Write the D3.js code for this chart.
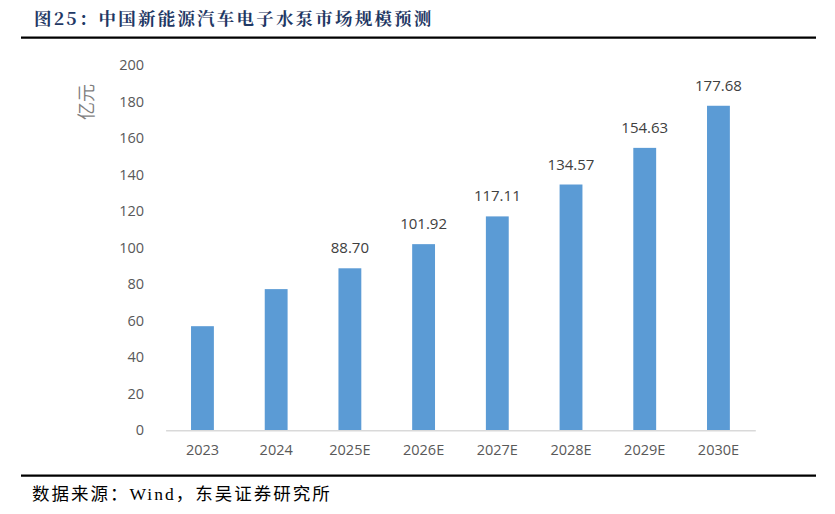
<!DOCTYPE html>
<html>
<head>
<meta charset="utf-8">
<script src="https://cdn.jsdelivr.net/npm/d3@7"></script>
<style>
  body { margin: 0; background: #fff; }
  svg text { font-family: "Open Sans", "Noto Sans", sans-serif; }
</style>
</head>
<body>
<svg id="chart" width="835" height="514"></svg>
<script>
// Chart data
const years    = ['2023', '2024', '2025E', '2026E', '2027E', '2028E', '2029E', '2030E'];
const values   = [57.0, 77.3, 88.70, 101.92, 117.11, 134.57, 154.63, 177.68];
const labelled = [false, false, true, true, true, true, true, true];
const yTicks   = [0, 20, 40, 60, 80, 100, 120, 140, 160, 180, 200];

const titleText  = '图25：中国新能源汽车电子水泵市场规模预测';
const sourceText = '数据来源：Wind，东吴证券研究所';
const unitText   = '亿元';

// Plot area
const plot = {left: 165.6, right: 755.3, top: 65, bottom: 430.3};

const svg = d3.select('#chart');

// Header and footer rules
svg.append('line').attr('x1', 21).attr('x2', 816).attr('y1', 37.7).attr('y2', 37.7)
   .attr('stroke', '#000').attr('stroke-width', 2.2);
svg.append('line').attr('x1', 21).attr('x2', 816).attr('y1', 475.7).attr('y2', 475.7)
   .attr('stroke', '#000').attr('stroke-width', 2.2);

svg.append('text').text(titleText)
   .attr('x', 34).attr('y', 25)
   .style('font-family', '"Noto Serif CJK SC", "Noto Sans CJK SC", serif')
   .style('font-weight', 'bold').style('font-size', '17.5px')
   .style('letter-spacing', '2.2px')
   .attr('fill', '#1f3864');

svg.append('text').text(sourceText)
   .attr('x', 32).attr('y', 500)
   .style('font-family', '"Liberation Serif", "Noto Sans CJK SC", serif')
   .style('font-size', '17.5px').style('letter-spacing', '2px')
   .attr('fill', '#000');

// Scales
const xScale = d3.scaleBand().domain(years)
                 .range([plot.left, plot.right])
                 .paddingInner(0.69).paddingOuter(0.345);
const yScale = d3.scaleLinear().domain([0, 200]).range([plot.bottom, plot.top]);

// Y axis (labels only)
const yAxis = d3.axisLeft(yScale).tickValues(yTicks).tickSize(0).tickPadding(0);
svg.append('g').attr('transform', `translate(144,0)`).call(yAxis)
   .call(g => g.select('.domain').remove())
   .selectAll('text')
   .style('font-size', '14.5px').attr('fill', '#595959')
   .style('font-family', '"Open Sans", "Noto Sans", sans-serif');

// Unit label
svg.append('text').text(unitText)
   .attr('transform', 'translate(93,102) rotate(-90)')
   .attr('text-anchor', 'middle')
   .style('font-family', '"Noto Sans CJK SC", sans-serif')
   .style('font-size', '18px').attr('fill', '#7f7f7f');

// Bars
svg.append('g').selectAll('rect')
   .data(values).enter()
   .append('rect')
   .attr('x', (d, i) => xScale(years[i]))
   .attr('width', xScale.bandwidth())
   .attr('y', d => yScale(d))
   .attr('height', d => yScale(0) - yScale(d))
   .attr('fill', '#5b9bd5');

// X axis
const xAxis = d3.axisBottom(xScale).tickSize(0).tickPadding(14);
svg.append('g').attr('transform', `translate(0,${plot.bottom})`).call(xAxis)
   .call(g => g.select('.domain').attr('stroke', '#d9d9d9').attr('stroke-width', 1.5))
   .selectAll('text')
   .style('font-size', '14.5px').attr('fill', '#595959')
   .style('font-family', '"Open Sans", "Noto Sans", sans-serif');

// Data labels
svg.append('g').selectAll('text')
   .data(values.map((v, i) => ({v, i})).filter(d => labelled[d.i])).enter()
   .append('text')
   .attr('x', d => xScale(years[d.i]) + xScale.bandwidth() / 2)
   .attr('y', d => yScale(d.v) - 15)
   .attr('text-anchor', 'middle')
   .style('font-size', '15px').attr('fill', '#404040')
   .text(d => d.v.toFixed(2));
</script>
</body>
</html>
